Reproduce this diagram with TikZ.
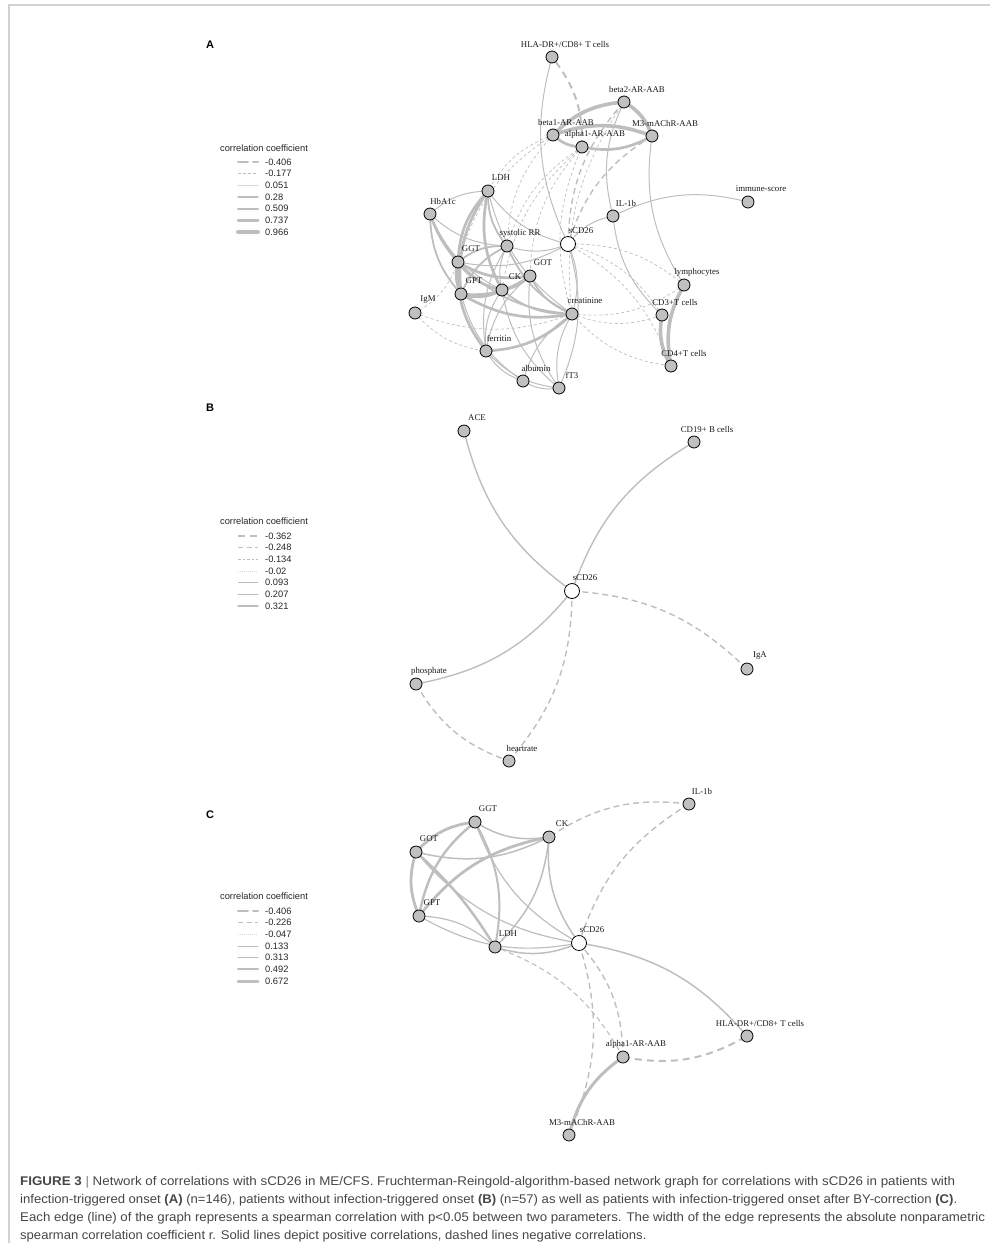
\documentclass[tikz,border=0pt]{standalone}
\usepackage{fontspec}
\usepackage{graphicx}
\setmainfont{Liberation Serif}
\newfontfamily\sansf{Liberation Sans}
\newfontfamily\capf{Liberation Sans}
\usetikzlibrary{calc}
\pgfdeclarelayer{edges}
\pgfsetlayers{edges,main}
\definecolor{edgegray}{RGB}{190,190,190}
\definecolor{nodegray}{RGB}{192,192,192}
\definecolor{framegray}{RGB}{210,210,210}
\definecolor{captext}{RGB}{70,70,70}

\tikzset{
  gv/.style={circle,draw=black,line width=0.8pt,fill=nodegray,minimum size=12pt,inner sep=0pt},
  wv/.style={gv,fill=white,minimum size=15pt},
  glbl/.style={font=\fontsize{8.8}{10}\selectfont,inner sep=0pt,text=black!90},
  ed/.style={draw=edgegray,line cap=round},
  p0/.style={ed,line width=0.5pt},
  p1/.style={ed,line width=1pt},
  p2/.style={ed,line width=1.8pt},
  p3/.style={ed,line width=2.7pt},
  p4/.style={ed,line width=3.6pt},
  n1/.style={ed,line cap=butt,line width=0.7pt,dash pattern=on 3pt off 2.5pt},
  n2/.style={ed,line cap=butt,line width=1.4pt,dash pattern=on 6pt off 4pt},
  n3/.style={ed,line cap=butt,line width=2pt,dash pattern=on 7pt off 5pt},
  legtitle/.style={font=\sansf\fontsize{9.3}{10}\selectfont,inner sep=0pt,text=black!85},
  legtxt/.style={font=\sansf\fontsize{9.3}{10}\selectfont,inner sep=0pt,anchor=west,text=black!85},
  panel/.style={font=\sansf\bfseries\fontsize{11}{12}\selectfont,inner sep=0pt},
  capline/.style={font=\capf\fontsize{12.6}{15}\selectfont,inner sep=0pt,anchor=base west,text=captext},
}

% vertex with its label up and to the right
\newcommand{\gnode}[5][gv]{%
  \node[#1] (#2) at (#3,-#4) {};
  \node[glbl] (#2-l) at (#3+13,-#4+13) {#5};}
% curved connector between two vertex centres
\newcommand{\cx}[4][20]{\draw[#2] (#3.center) to[bend right=#1] (#4.center);}
% legend row: name, y, style, value
\newcommand{\lrow}[4]{%
  \coordinate (#1-a) at (238,-#2);
  \coordinate (#1-b) at (258,-#2);
  \draw[#3] (#1-a) -- (#1-b);
  \node[legtxt] (#1) at (265,-#2) {#4};}
% caption line set to a given width
\newsavebox{\capbox}
\newcommand{\fitline}[2]{%
  \sbox{\capbox}{#2}%
  \pgfmathsetmacro{\capsx}{#1/\the\wd\capbox}%
  \scalebox{\capsx}[1]{\usebox{\capbox}}}

\begin{document}
\begin{tikzpicture}[x=1pt,y=1pt]
\useasboundingbox (0,0) rectangle (990,-1243);
\coordinate (fr1) at (9,-1243);
\coordinate (fr2) at (9,-5);
\coordinate (fr3) at (990,-5);
\draw[framegray,line width=1.5pt] (fr1) -- (fr2) -- (fr3);

% ---------------- panel A ----------------
\node[panel] (pA) at (210,-45) {A};
\gnode{aHLA}{552}{57}{HLA-DR+/CD8+ T cells}
\gnode{ab2}{624}{102}{beta2-AR-AAB}
\gnode{ab1}{553}{135}{beta1-AR-AAB}
\gnode{aa1}{582}{147}{alpha1-AR-AAB}
\gnode{aM3}{652}{136}{M3-mAChR-AAB}
\gnode{aLDH}{488}{191}{LDH}
\gnode{aHb}{430}{214}{HbA1c}
\gnode{aimm}{748}{202}{immune-score}
\gnode{aIL}{613}{216}{IL-1b}
\gnode[wv]{asC}{568}{244}{sCD26}
\gnode{asys}{507}{246}{systolic RR}
\gnode{aGGT}{458}{262}{GGT}
\gnode{aGOT}{530}{276}{GOT}
\gnode{aCK}{502}{290}{CK}
\gnode{aGPT}{461}{294}{GPT}
\gnode{aIgM}{415}{313}{IgM}
\gnode{acr}{572}{314}{creatinine}
\gnode{alym}{684}{285}{lymphocytes}
\gnode{aCD3}{662}{315}{CD3+T cells}
\gnode{aCD4}{671}{366}{CD4+T cells}
\gnode{afer}{486}{351}{ferritin}
\gnode{aalb}{523}{381}{albumin}
\gnode{afT3}{559}{388}{fT3}

\begin{pgfonlayer}{edges}
\cx{p1}{aHLA}{asC}
\cx{n3}{aa1}{aHLA}
\cx{p4}{ab2}{ab1}
\cx{p4}{aM3}{ab1}
\cx{p4}{aM3}{ab2}
\cx{p3}{ab1}{aa1}
\cx{p3}{aa1}{aM3}
\cx{p1}{ab2}{aIL}
\cx{p1}{aLDH}{aHb}
\cx[10]{p3}{aHb}{aGGT}
\cx{p2}{aHb}{aGPT}
\cx{p1}{aHb}{asys}
\cx{p1}{aHb}{aCK}
\cx{p3}{aLDH}{aGGT}
\cx{p3}{aLDH}{aGPT}
\cx{p3}{aLDH}{aCK}
\cx{p2}{aLDH}{asys}
\cx{p1}{aLDH}{asC}
\cx{p1}{aLDH}{acr}
\cx{p1}{asys}{asC}
\cx{p2}{asys}{aGGT}
\cx{p2}{asys}{aGPT}
\cx{p1}{asys}{aCK}
\cx{p2}{asys}{acr}
\cx{p1}{asys}{afer}
\cx{p3}{aGGT}{aGPT}
\cx{p3}{aGGT}{aCK}
\cx{p3}{aGGT}{aGOT}
\cx{p2}{aGGT}{acr}
\cx{p3}{aGGT}{afer}
\cx{p1}{aGGT}{asC}
\cx{p4}{aGPT}{aCK}
\cx{p3}{aGPT}{aGOT}
\cx{p3}{aGPT}{acr}
\cx{p1}{aGPT}{aalb}
\cx{p2}{aCK}{aGOT}
\cx{p2}{aCK}{acr}
\cx{p1}{aCK}{afT3}
\cx{p1}{aCK}{afer}
\cx{p1}{aGOT}{afer}
\cx{p1}{aGOT}{afT3}
\cx{p2}{aGOT}{acr}
\cx{p3}{afer}{acr}
\cx{p1}{acr}{aalb}
\cx{p1}{acr}{afT3}
\cx{p1}{afer}{aalb}
\cx{p1}{afer}{afT3}
\cx{p1}{aalb}{afT3}
\cx{p1}{afT3}{asC}
\cx{p1}{acr}{asC}
\cx{p1}{aIL}{asC}
\cx{p1}{aimm}{aIL}
\cx{p1}{aIL}{aCD3}
\cx{p1}{aM3}{alym}
\cx{p4}{alym}{aCD4}
\cx{p4}{aCD3}{aCD4}
\cx{n1}{aIgM}{aGGT}
\cx{n1}{aIgM}{acr}
\cx{n1}{aIgM}{afer}
\cx{n1}{alym}{asC}
\cx{n1}{aCD3}{asC}
\cx{n1}{aCD4}{asC}
\cx{n1}{acr}{aCD3}
\cx{n1}{acr}{aCD4}
\cx{n1}{acr}{alym}
\cx{n1}{ab1}{aLDH}
\cx{n1}{ab1}{asys}
\cx{n1}{ab1}{aGGT}
\cx{n1}{aa1}{asys}
\cx{n1}{aa1}{aGOT}
\cx{n1}{aa1}{aCK}
\cx{n2}{ab2}{asC}
\cx{n2}{aM3}{asC}
\cx{n1}{ab2}{acr}
\cx{n1}{aa1}{acr}
\end{pgfonlayer}

\node[legtitle] (legA) at (264,-148) {correlation coefficient};
\lrow{lA1}{162}{ed,line width=2pt,dash pattern=on 10pt off 5pt}{-0.406}
\lrow{lA2}{173.7}{ed,line cap=butt,line width=0.8pt,dash pattern=on 3pt off 2pt}{-0.177}
\lrow{lA3}{185.3}{ed,line width=0.3pt,draw=edgegray!60}{0.051}
\lrow{lA4}{197}{ed,line width=1.1pt}{0.28}
\lrow{lA5}{208.7}{ed,line width=2pt}{0.509}
\lrow{lA6}{220.3}{ed,line width=3pt}{0.737}
\lrow{lA7}{232}{ed,line width=4pt}{0.966}

% ---------------- panel B ----------------
\node[panel] (pB) at (210,-408) {B};
\gnode{bACE}{464}{431}{ACE}
\gnode{bCD19}{694}{442}{CD19+ B cells}
\gnode[wv]{bsC}{572}{591}{sCD26}
\gnode{bIgA}{747}{669}{IgA}
\gnode{bph}{416}{684}{phosphate}
\gnode{bhr}{509}{761}{heartrate}
\begin{pgfonlayer}{edges}
\cx{ed,line width=1.4pt}{bACE}{bsC}
\cx{ed,line width=1.4pt}{bCD19}{bsC}
\cx{ed,line width=1.4pt}{bph}{bsC}
\cx{n2}{bIgA}{bsC}
\cx{n2}{bhr}{bsC}
\cx{n2}{bph}{bhr}
\end{pgfonlayer}

\node[legtitle] (legB) at (264,-521) {correlation coefficient};
\lrow{lB1}{536}{ed,line cap=butt,line width=1.7pt,dash pattern=on 7pt off 5pt}{-0.362}
\lrow{lB2}{547.7}{ed,line cap=butt,line width=1.2pt,dash pattern=on 5pt off 3.5pt}{-0.248}
\lrow{lB3}{559.3}{ed,line cap=butt,line width=0.7pt,dash pattern=on 2.5pt off 2pt}{-0.134}
\lrow{lB4}{571}{ed,line cap=butt,line width=0.3pt,draw=edgegray!60,dash pattern=on 1pt off 1pt}{-0.02}
\lrow{lB5}{582.7}{ed,line width=0.5pt}{0.093}
\lrow{lB6}{594.3}{ed,line width=1pt}{0.207}
\lrow{lB7}{606}{ed,line width=1.5pt}{0.321}

% ---------------- panel C ----------------
\node[panel] (pC) at (210,-815) {C};
\gnode{cGGT}{475}{822}{GGT}
\gnode{cCK}{549}{837}{CK}
\gnode{cIL}{689}{804}{IL-1b}
\gnode{cGOT}{416}{852}{GOT}
\gnode{cGPT}{419}{916}{GPT}
\gnode{cLDH}{495}{947}{LDH}
\gnode[wv]{csC}{579}{943}{sCD26}
\gnode{ca1}{623}{1057}{alpha1-AR-AAB}
\gnode{cHLA}{747}{1036}{HLA-DR+/CD8+ T cells}
\gnode{cM3}{569}{1135}{M3-mAChR-AAB}
\begin{pgfonlayer}{edges}
\cx{ed,line width=2.8pt}{cGGT}{cGOT}
\cx{ed,line width=2.8pt}{cGOT}{cGPT}
\cx{ed,line width=2.4pt}{cGGT}{cGPT}
\cx{ed,line width=1.5pt}{cGGT}{cCK}
\cx{ed,line width=1.5pt}{cGOT}{cCK}
\cx{ed,line width=2.8pt}{cCK}{cGPT}
\cx{ed,line width=1.5pt}{cLDH}{cCK}
\cx{ed,line width=1.5pt}{cCK}{csC}
\cx[8]{ed,line width=2.5pt}{cLDH}{cGOT}
\cx{ed,line width=2pt}{cLDH}{cGGT}
\cx{ed,line width=1.2pt}{cGGT}{csC}
\cx{ed,line width=1.2pt}{cGOT}{csC}
\cx{ed,line width=1.2pt}{cLDH}{cGPT}
\cx{ed,line width=1.2pt}{cGPT}{csC}
\cx{ed,line width=1.5pt}{cLDH}{csC}
\cx{n2}{cIL}{cCK}
\cx{n2}{cIL}{csC}
\cx{ed,line width=1.5pt}{cHLA}{csC}
\cx{n3}{ca1}{cHLA}
\cx{ed,line width=3pt}{ca1}{cM3}
\cx{ed,line cap=butt,line width=1.1pt,dash pattern=on 5pt off 3.5pt}{ca1}{cLDH}
\cx{n2}{ca1}{csC}
\cx{n2}{cM3}{csC}
\end{pgfonlayer}

\node[legtitle] (legC) at (264,-896) {correlation coefficient};
\lrow{lC1}{911}{ed,line width=2pt,dash pattern=on 10pt off 5pt}{-0.406}
\lrow{lC2}{922.7}{ed,line cap=butt,line width=1.2pt,dash pattern=on 5pt off 3.5pt}{-0.226}
\lrow{lC3}{934.3}{ed,line cap=butt,line width=0.3pt,draw=edgegray!60,dash pattern=on 1pt off 1pt}{-0.047}
\lrow{lC4}{946}{ed,line width=0.6pt}{0.133}
\lrow{lC5}{957.7}{ed,line width=1.3pt}{0.313}
\lrow{lC6}{969.3}{ed,line width=2pt}{0.492}
\lrow{lC7}{981}{ed,line width=3pt}{0.672}

% ---------------- caption ----------------
\node[capline] (cap1) at (20,-1185) {\fitline{935}{\textbf{FIGURE 3} {\color{black!50}|} Network of correlations with sCD26 in ME/CFS. Fruchterman-Reingold-algorithm-based network graph for correlations with sCD26 in patients with}};
\node[capline] (cap2) at (20,-1203) {\fitline{937}{infection-triggered onset \textbf{(A)} (n=146), patients without infection-triggered onset \textbf{(B)} (n=57) as well as patients with infection-triggered onset after BY-correction \textbf{(C)}.}};
\node[capline] (cap3) at (20,-1221) {\fitline{965}{Each edge (line) of the graph represents a spearman correlation with p<0.05 between two parameters. The width of the edge represents the absolute nonparametric}};
\node[capline] (cap4) at (20,-1239) {\scalebox{1.037}[1]{spearman correlation coefficient r. Solid lines depict positive correlations, dashed lines negative correlations.}};
\end{tikzpicture}
\end{document}
